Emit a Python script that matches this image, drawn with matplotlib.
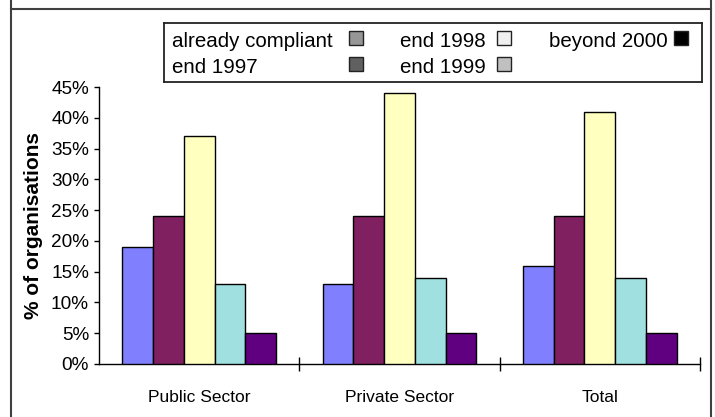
import matplotlib
matplotlib.use("Agg")
import matplotlib.pyplot as plt
from matplotlib.patches import Rectangle
from matplotlib.lines import Line2D
from matplotlib.ticker import PercentFormatter
import numpy as np

plt.rcParams['font.family'] = ['Liberation Sans', 'DejaVu Sans']

# Data
sectors = ["Public Sector", "Private Sector", "Total"]
series = ["already compliant", "end 1997", "end 1998", "end 1999", "beyond 2000"]
already_compliant = [19, 13, 16]
end_1997 = [24, 24, 24]
end_1998 = [37, 44, 41]
end_1999 = [13, 14, 14]
beyond_2000 = [5, 5, 5]
values = [already_compliant, end_1997, end_1998, end_1999, beyond_2000]

bar_colors = ["#8080FF", "#802060", "#FFFFC0", "#A0E0E0", "#600080"]
swatch_colors = ["#969696", "#606060", "#F0F0F0", "#C0C0C0", "#000000"]

W, H = 715, 417
fig = plt.figure(figsize=(W / 100, H / 100), dpi=100)

def fx(px):
    return px / W

def fy(py):
    return 1 - py / H

# main axes: y axis at x=99, right end at 700, 0% at y=364, 45% at y=87
ax = fig.add_axes([fx(99), fy(364), fx(700) - fx(99), fy(87) - fy(364)])
x = np.arange(len(sectors))
w = 0.1535
for i, (vals, col) in enumerate(zip(values, bar_colors)):
    ax.bar(x + (i - 2) * w, vals, width=w, color=col, edgecolor="black", linewidth=1.0, zorder=3)

ax.set_xlim(-0.5, 2.5)
ax.set_ylim(0, 45)
ax.set_yticks(range(0, 46, 5))
ax.yaxis.set_major_formatter(PercentFormatter(decimals=0))
ax.set_xticks(x)
ax.set_xticklabels(sectors, fontsize=12.5)
ax.set_xticks([0.5, 1.5, 2.5], minor=True)
ax.tick_params(axis="x", which="major", length=0, pad=19)
ax.tick_params(axis="x", which="minor", direction="inout", length=10, width=1)
ax.tick_params(axis="y", length=3.6, width=1, pad=3.6, labelsize=13.7)
for side in ["top", "right"]:
    ax.spines[side].set_visible(False)
for side in ["left", "bottom"]:
    ax.spines[side].set_linewidth(1.0)
ax.set_ylabel("% of organisations", fontsize=15, fontweight="bold", labelpad=6)

# legend box drawn as its own axes (text left aligned, swatches right)
lx0, lx1, ly0, ly1 = 164, 702, 23, 82
lax = fig.add_axes([fx(lx0), fy(ly1), fx(lx1) - fx(lx0), fy(ly0) - fy(ly1)])
lax.set_xlim(lx0, lx1)
lax.set_ylim(ly1, ly0)
lax.set_xticks([])
lax.set_yticks([])
for s in lax.spines.values():
    s.set_linewidth(1.3)
    s.set_color("#222222")

text_x = [172, 172, 400, 400, 549]
swatch_x = [349, 349, 497, 497, 674]
rows = [0, 1, 0, 1, 0]
baselines = [47, 73]
swatch_top = [31, 57]
for lab, tx, sx, r, sc in zip(series, text_x, swatch_x, rows, swatch_colors):
    lax.text(tx, baselines[r], lab, fontsize=14.8, va="baseline", ha="left")
    lax.add_patch(Rectangle((sx, swatch_top[r]), 14, 14, facecolor=sc,
                            edgecolor="#222222", linewidth=1.0))

# outer frame of the cropped chart area
frame = dict(color="#404040", linewidth=1.5, transform=fig.transFigure)
fig.add_artist(Line2D([fx(11), fx(711)], [fy(9), fy(9)], **frame))
fig.add_artist(Line2D([fx(11), fx(11)], [0, 1], **frame))
fig.add_artist(Line2D([fx(711), fx(711)], [0, 1], **frame))

fig.savefig("out.png", dpi=100)
